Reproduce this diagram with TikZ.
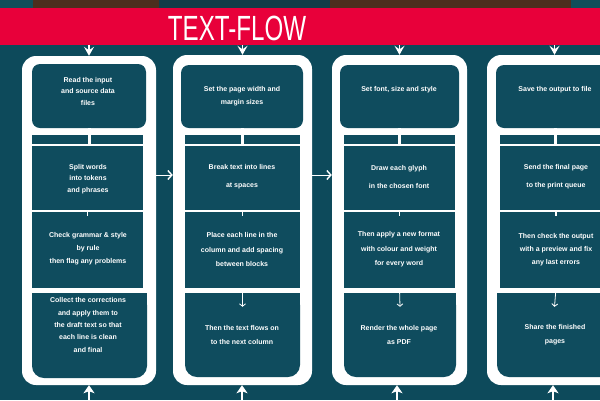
\documentclass[tikz,border=0pt]{standalone}
\usepackage{fontspec}
\setmainfont{Liberation Sans}
\usetikzlibrary{arrows.meta}
\definecolor{bgteal}{RGB}{13,74,91}
\definecolor{boxteal}{RGB}{15,76,94}
\definecolor{bannerred}{RGB}{232,0,58}
\definecolor{stripbrown}{RGB}{76,46,30}
\definecolor{stripdark}{RGB}{18,60,72}
\definecolor{stripteal}{RGB}{16,78,90}

\begin{document}
\begin{tikzpicture}[x=1pt,y=-1pt,
  sz/.style 2 args={minimum width=#1pt, minimum height=#2pt},
  frame/.style={fill=white, rounded corners=14pt, inner sep=0pt},
  topbox/.style={fill=boxteal, rounded corners=8pt, inner sep=0pt},
  panel/.style={fill=boxteal, inner sep=0pt},
  lastbox/.style={fill=boxteal, rounded corners=12pt, inner sep=0pt},
  label/.style={text=white, font=\fontsize{7}{11.5}\selectfont\bfseries, align=center, inner sep=0pt},
  toparrow/.style={draw=white, line width=1.8pt, -{Stealth[length=9pt, width=10pt, inset=3.5pt]}},
  botarrow/.style={draw=white, line width=2pt, -{Stealth[length=8pt, width=11pt, inset=2pt]}},
  harrow/.style={draw=white, line width=1pt, -{Straight Barb[length=4pt, width=9pt, line width=1.4pt]}},
  darrow/.style={draw=white, line width=0.8pt, -{Straight Barb[length=2.5pt, width=6pt]}},
  link/.style={draw=white, line width=3pt},
  tick/.style={draw=white, line width=1.2pt},
]
% canvas
\fill[bgteal] (0,0) rectangle (600,400);
\useasboundingbox (0,0) rectangle (600,400);
\clip (0,0) rectangle (600,400);

% thin strip above the banner
\fill[stripteal] (0,0) rectangle (33,8);
\fill[stripbrown] (33,0) rectangle (159,8);
\fill[stripdark] (159,0) rectangle (330,8);
\fill[stripbrown] (330,0) rectangle (571,8);
\fill[stripteal] (571,0) rectangle (600,8);

% banner and title
\node[fill=bannerred, sz={600}{37}, inner sep=0pt, anchor=north west] (banner) at (0,8) {};
\node[text=white, font=\fontsize{35}{35}\selectfont, inner sep=0pt] (title) at (237,28) {\scalebox{0.69}[1]{TEXT-FLOW}};

% ---------- column 1 ----------
\node[frame, sz={134}{329}] (f1) at (89,220.5) {};
\node[topbox, sz={114}{64}] (t1) at (89,96) {};
\node[panel, sz={111}{9}] (s1) at (87.5,139.5) {};
\node[panel, sz={111}{64}] (b1) at (87.5,178) {};
\node[panel, sz={111}{76}] (c1) at (87.5,250) {};
\node[lastbox, sz={115}{85}] (d1) at (89.5,335.5) {};
\fill[boxteal] (d1.north west) rectangle (d1.east);
\node[label] (t1x) at (88,91) {Read the input\\and source data\\files};
\node[label] (b1x) at (88,179) {Split words\\into tokens\\and phrases};
\node[label, font=\fontsize{7}{13}\selectfont\bfseries] (c1x) at (88,249) {Check grammar \& style\\by rule\\then flag any problems};
\node[label, font=\fontsize{7}{12.3}\selectfont\bfseries] (d1x) at (88,325) {Collect the corrections\\and apply them to\\the draft text so that\\each line is clean\\and final};

% ---------- column 2 ----------
\node[frame, sz={139}{330}] (f2) at (242.5,220) {};
\node[topbox, sz={122}{63}] (t2) at (242,96.5) {};
\node[panel, sz={115}{9}] (s2) at (242.5,139.5) {};
\node[panel, sz={115}{64}] (b2) at (242.5,178) {};
\node[panel, sz={115}{76}] (c2) at (242.5,250) {};
\node[lastbox, sz={115}{84}] (d2) at (242.5,335) {};
\fill[boxteal] (d2.north west) rectangle (d2.east);
\node[label, font=\fontsize{7}{13}\selectfont\bfseries] (t2x) at (242,96.5) {Set the page width and\\margin sizes};
\node[label, font=\fontsize{7}{18}\selectfont\bfseries] (b2x) at (242,177) {Break text into lines\\at spaces};
\node[label, font=\fontsize{7}{14.5}\selectfont\bfseries] (c2x) at (242,249.5) {Place each line in the\\column and add spacing\\between blocks};
\node[label, font=\fontsize{7}{14}\selectfont\bfseries] (d2x) at (242,335) {Then the text flows on\\to the next column};

% ---------- column 3 ----------
\node[frame, sz={135}{330}] (f3) at (399.5,220) {};
\node[topbox, sz={119}{63}] (t3) at (399.5,96.5) {};
\node[panel, sz={111}{9}] (s3) at (399.5,139.5) {};
\node[panel, sz={111}{64}] (b3) at (399.5,178) {};
\node[panel, sz={111}{76}] (c3) at (399.5,250) {};
\node[lastbox, sz={112}{84}] (d3) at (400,335) {};
\fill[boxteal] (d3.north west) rectangle (d3.east);
\node[label] (t3x) at (399,90) {Set font, size and style};
\node[label, font=\fontsize{7}{18}\selectfont\bfseries] (b3x) at (399,177) {Draw each glyph\\in the chosen font};
\node[label, font=\fontsize{7}{14.5}\selectfont\bfseries] (c3x) at (399,249.5) {Then apply a new format\\with colour and weight\\for every word};
\node[label, font=\fontsize{7}{14}\selectfont\bfseries] (d3x) at (399,335) {Render the whole page\\as PDF};

% ---------- column 4 ----------
\node[frame, sz={135}{330}] (f4) at (554.5,220) {};
\node[topbox, sz={119}{63}] (t4) at (555.5,96.5) {};
\node[panel, sz={112}{9}] (s4) at (556,139.5) {};
\node[panel, sz={112}{64}] (b4) at (556,178) {};
\node[panel, sz={112}{76}] (c4) at (556,250) {};
\node[lastbox, sz={115}{84}] (d4) at (554.5,335) {};
\fill[boxteal] (d4.north west) rectangle (d4.east);
\node[label] (t4x) at (555,90) {Save the output to file};
\node[label, font=\fontsize{7}{18}\selectfont\bfseries] (b4x) at (556,177) {Send the final page\\to the print queue};
\node[label, font=\fontsize{7}{13}\selectfont\bfseries] (c4x) at (556,250) {Then check the output\\with a preview and fix\\any last errors};
\node[label, font=\fontsize{7}{14}\selectfont\bfseries] (d4x) at (555,335) {Share the finished\\pages};

% links inside each column
\foreach \i in {1,2,3,4} {
  \draw[link] (t\i.south) -- (t\i.south |- b\i.north);
  \draw[tick] (b\i.south) -- ([yshift=-4pt]c\i.north);
}
\foreach \i in {2,3,4} {
  \draw[darrow] (c\i.south) -- ([yshift=-14pt]d\i.north);
}

% banner feeds every column
\foreach \i in {1,2,3,4} {
  \draw[toparrow] (banner.south -| f\i.north) -- (f\i.north);
}

% inputs entering from below
\coordinate (in1) at (89,400);
\coordinate (in2) at (242,400);
\coordinate (in3) at (397,400);
\coordinate (in4) at (553,400);
\foreach \i in {1,2,3,4} {
  \draw[botarrow] (in\i) -- (in\i |- f\i.south);
}

% column to column
\draw[harrow] ([yshift=45.5pt]f1.east) -- ([yshift=45pt]f2.west);
\draw[harrow] ([yshift=45pt]f2.east) -- ([yshift=45pt]f3.west);
\end{tikzpicture}
\end{document}
